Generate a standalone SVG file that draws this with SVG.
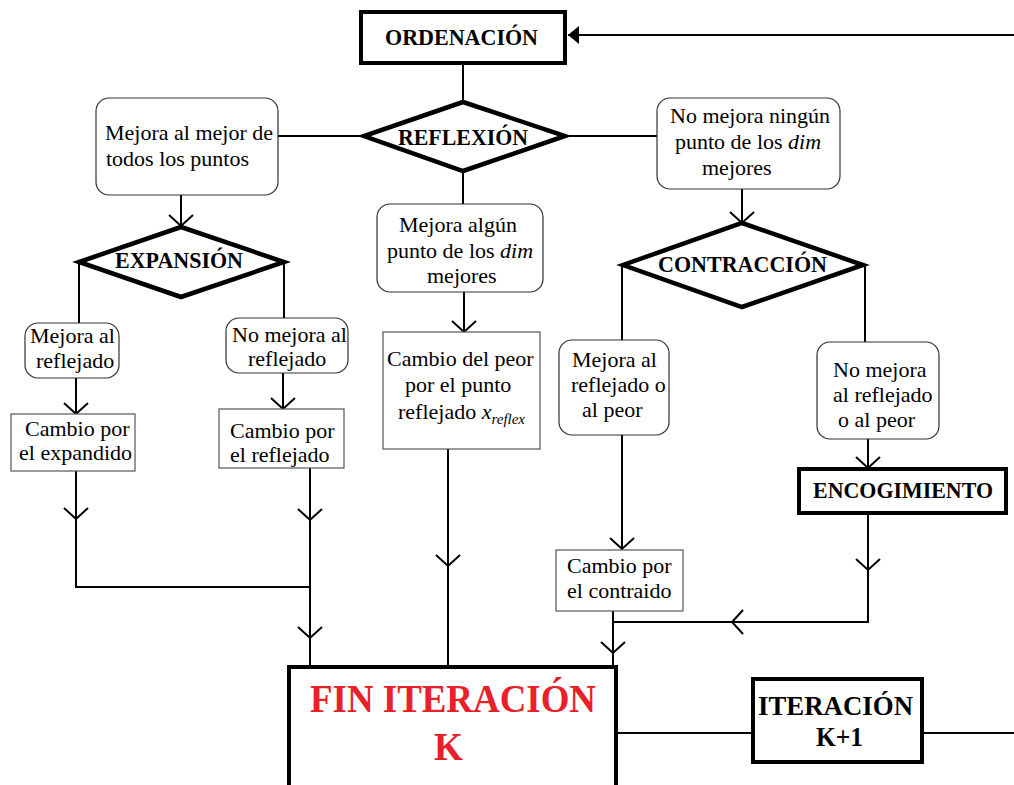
<svg xmlns="http://www.w3.org/2000/svg" width="1014" height="785" viewBox="0 0 1014 785">
<style>
.bg{fill:#fff}
.rbox{fill:#fff;stroke:#333;stroke-width:1.2}
.box{fill:#fff;stroke:#555;stroke-width:1.2}
.thick{fill:#fff;stroke:#000;stroke-width:4}
.dia{fill:#fff;stroke:#000;stroke-width:4.5;stroke-linejoin:miter}
.t{font-family:"Liberation Serif","Times New Roman",serif;font-size:22px;fill:#000}
.b{font-family:"Liberation Serif","Times New Roman",serif;font-size:23px;font-weight:bold;fill:#000}
.red{font-family:"Liberation Serif","Times New Roman",serif;font-size:40px;font-weight:bold;fill:#e8202a}
.big{font-family:"Liberation Serif","Times New Roman",serif;font-size:28px;font-weight:bold;fill:#000}
.c{fill:none;stroke:#000;stroke-width:2}
</style>
<defs>
<marker id="chev" markerUnits="userSpaceOnUse" markerWidth="30" markerHeight="30" viewBox="-15 -15 30 30" refX="0" refY="0" orient="auto" overflow="visible">
<path d="M-11,-12 L0,0 L-11,12" fill="none" stroke="#000" stroke-width="2"/>
</marker>
<marker id="tri" markerUnits="userSpaceOnUse" markerWidth="20" markerHeight="20" viewBox="-12 -10 14 20" refX="0" refY="0" orient="auto" overflow="visible">
<path d="M0,0 L-11,-9 L-11,9 Z" fill="#000"/>
</marker>
</defs>
<rect class="bg" x="0" y="0" width="1014" height="785"/>

<g id="connectors">
<line class="c" x1="1014" y1="35" x2="568" y2="35" stroke-width="2.6" marker-end="url(#tri)"/>
<line class="c" x1="463" y1="64" x2="463" y2="102"/>
<line class="c" x1="363" y1="136" x2="278" y2="136"/>
<line class="c" x1="566" y1="136" x2="657" y2="136"/>
<line class="c" x1="463" y1="172" x2="463" y2="204"/>
<line class="c" x1="181" y1="195" x2="181" y2="226" marker-end="url(#chev)"/>
<line class="c" x1="79" y1="262" x2="79" y2="323"/>
<line class="c" x1="284" y1="262" x2="284" y2="318"/>
<line class="c" x1="76" y1="378" x2="76" y2="414" marker-end="url(#chev)"/>
<line class="c" x1="283" y1="373" x2="283" y2="409" marker-end="url(#chev)"/>
<line class="c" x1="76" y1="471" x2="76" y2="519" marker-end="url(#chev)"/>
<polyline class="c" points="76,519 76,587 310,587"/>
<line class="c" x1="310" y1="468" x2="310" y2="520" marker-end="url(#chev)"/>
<line class="c" x1="310" y1="520" x2="310" y2="638" marker-end="url(#chev)"/>
<line class="c" x1="310" y1="638" x2="310" y2="667"/>
<line class="c" x1="464" y1="292" x2="464" y2="332" marker-end="url(#chev)"/>
<line class="c" x1="448" y1="449" x2="448" y2="566" marker-end="url(#chev)"/>
<line class="c" x1="448" y1="566" x2="448" y2="667"/>
<line class="c" x1="742" y1="189" x2="742" y2="223" marker-end="url(#chev)"/>
<line class="c" x1="622" y1="265" x2="622" y2="340"/>
<line class="c" x1="865" y1="265" x2="865" y2="342"/>
<line class="c" x1="622" y1="435" x2="622" y2="549" marker-end="url(#chev)"/>
<line class="c" x1="868" y1="439" x2="868" y2="468" marker-end="url(#chev)"/>
<line class="c" x1="868" y1="513" x2="868" y2="570" marker-end="url(#chev)"/>
<polyline class="c" points="868,570 868,622 732,622" marker-end="url(#chev)"/>
<line class="c" x1="732" y1="622" x2="613" y2="622"/>
<line class="c" x1="613" y1="611" x2="613" y2="653" marker-end="url(#chev)"/>
<line class="c" x1="613" y1="653" x2="613" y2="667"/>
<line class="c" x1="617" y1="733" x2="752" y2="733"/>
<line class="c" x1="923" y1="733" x2="1014" y2="733"/>
</g>

<g id="ordenacion">
<rect class="thick" x="361" y="12" width="204" height="51"/>
<text class="b" x="385" y="45" textLength="153" lengthAdjust="spacingAndGlyphs">ORDENACIÓN</text>
</g>

<g id="reflexion">
<polygon class="dia" points="463,102 565,136 463,171 364,136"/>
<text class="b" x="398" y="145" textLength="130" lengthAdjust="spacingAndGlyphs">REFLEXIÓN</text>
</g>

<g id="mejora-mejor">
<rect class="rbox" x="96" y="98" width="182" height="97" rx="13"/>
<text class="t" x="105" y="140">Mejora al mejor de</text>
<text class="t" x="106" y="166">todos los puntos</text>
</g>

<g id="expansion">
<polygon class="dia" points="181,227 284,262 181,297 79,262"/>
<text class="b" x="115" y="268" textLength="128" lengthAdjust="spacingAndGlyphs">EXPANSIÓN</text>
</g>

<g id="exp-mejora">
<rect class="rbox" x="25" y="323" width="94" height="55" rx="13"/>
<text class="t" x="30" y="343">Mejora al</text>
<text class="t" x="36" y="368">reflejado</text>
</g>

<g id="exp-nomejora">
<rect class="rbox" x="226" y="318" width="122" height="55" rx="13"/>
<text class="t" x="232" y="342">No mejora al</text>
<text class="t" x="248" y="366">reflejado</text>
</g>

<g id="cambio-expandido">
<rect class="box" x="11" y="414" width="124" height="57"/>
<text class="t" x="25" y="436">Cambio por</text>
<text class="t" x="19" y="460">el expandido</text>
</g>

<g id="cambio-reflejado">
<rect class="box" x="219" y="409" width="125" height="59"/>
<text class="t" x="230" y="438">Cambio por</text>
<text class="t" x="230" y="462">el reflejado</text>
</g>

<g id="mejora-algun">
<rect class="rbox" x="377" y="204" width="166" height="88" rx="13"/>
<text class="t" x="399" y="232">Mejora algún</text>
<text class="t" x="387" y="258">punto de los <tspan font-style="italic">dim</tspan></text>
<text class="t" x="427" y="283">mejores</text>
</g>

<g id="cambio-peor">
<rect class="box" x="383" y="332" width="157" height="117"/>
<text class="t" x="387" y="366">Cambio del peor</text>
<text class="t" x="405" y="392">por el punto</text>
<text class="t" x="398" y="419">reflejado <tspan font-style="italic">x</tspan><tspan font-style="italic" font-size="15" dy="5">reflex</tspan></text>
</g>

<g id="no-mejora-ningun">
<rect class="rbox" x="657" y="98" width="183" height="91" rx="13"/>
<text class="t" x="670" y="123">No mejora ningún</text>
<text class="t" x="675" y="149">punto de los <tspan font-style="italic">dim</tspan></text>
<text class="t" x="702" y="175">mejores</text>
</g>

<g id="contraccion">
<polygon class="dia" points="742,223 863,265 742,307 623,265"/>
<text class="b" x="658" y="272" textLength="169" lengthAdjust="spacingAndGlyphs">CONTRACCIÓN</text>
</g>

<g id="con-mejora">
<rect class="rbox" x="559" y="340" width="110" height="95" rx="13"/>
<text class="t" x="572" y="367">Mejora al</text>
<text class="t" x="571" y="392">reflejado o</text>
<text class="t" x="582" y="417">al peor</text>
</g>

<g id="con-nomejora">
<rect class="rbox" x="817" y="342" width="122" height="97" rx="13"/>
<text class="t" x="833" y="377">No mejora</text>
<text class="t" x="833" y="402">al reflejado</text>
<text class="t" x="838" y="427">o al peor</text>
</g>

<g id="cambio-contraido">
<rect class="box" x="556" y="550" width="127" height="61"/>
<text class="t" x="567" y="573">Cambio por</text>
<text class="t" x="567" y="598">el contraido</text>
</g>

<g id="encogimiento">
<rect class="thick" x="799" y="469" width="207" height="44"/>
<text class="b" x="813" y="498" textLength="180" lengthAdjust="spacingAndGlyphs">ENCOGIMIENTO</text>
</g>

<g id="fin-iteracion">
<rect class="thick" x="289" y="667" width="327" height="130"/>
<text class="red" x="310" y="712" textLength="286" lengthAdjust="spacingAndGlyphs">FIN ITERACIÓN</text>
<text class="red" x="434" y="760" textLength="29" lengthAdjust="spacingAndGlyphs">K</text>
</g>

<g id="iteracion-k1">
<rect class="thick" x="753" y="679" width="169" height="83" stroke-width="3"/>
<text class="big" x="758" y="715" textLength="155" lengthAdjust="spacingAndGlyphs">ITERACIÓN</text>
<text class="big" x="816" y="746" textLength="47" lengthAdjust="spacingAndGlyphs">K+1</text>
</g>
</svg>
